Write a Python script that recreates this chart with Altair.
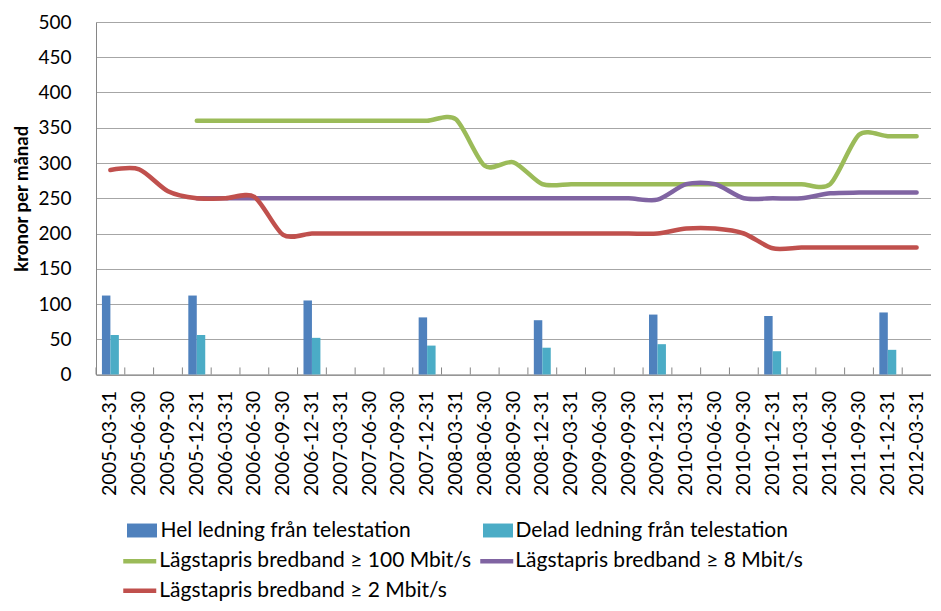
import altair as alt
import pandas as pd

dates = [
    "2005-03-31", "2005-06-30", "2005-09-30", "2005-12-31",
    "2006-03-31", "2006-06-30", "2006-09-30", "2006-12-31",
    "2007-03-31", "2007-06-30", "2007-09-30", "2007-12-31",
    "2008-03-31", "2008-06-30", "2008-09-30", "2008-12-31",
    "2009-03-31", "2009-06-30", "2009-09-30", "2009-12-31",
    "2010-03-31", "2010-06-30", "2010-09-30", "2010-12-31",
    "2011-03-31", "2011-06-30", "2011-09-30", "2011-12-31",
    "2012-03-31",
]

bar_dates = ["2005-03-31", "2005-12-31", "2006-12-31", "2007-12-31",
             "2008-12-31", "2009-12-31", "2010-12-31", "2011-12-31"]
hel = [112, 112, 105, 81, 77, 85, 83, 88]
delad = [56, 56, 52, 41, 38, 43, 33, 35]

bb100 = [None, None, None, 360, 360, 360, 360, 360, 360, 360, 360, 360,
         362, 296, 301, 270, 270, 270, 270, 270, 270, 270, 270, 270,
         270, 270, 340, 338, 338]
bb8 = [None, None, None, 250, 250, 250, 250, 250, 250, 250, 250, 250,
       250, 250, 250, 250, 250, 250, 250, 248, 270, 270, 250, 250,
       250, 257, 258, 258, 258]
bb2 = [290, 291, 260, 250, 250, 252, 198, 200, 200, 200, 200, 200,
       200, 200, 200, 200, 200, 200, 200, 200, 207, 207, 200, 179,
       180, 180, 180, 180, 180]

HEL = "Hel ledning från telestation"
DEL = "Delad ledning från telestation"
L100 = "Lägstapris bredband ≥ 100 Mbit/s"
L8 = "Lägstapris bredband ≥ 8 Mbit/s"
L2 = "Lägstapris bredband ≥ 2 Mbit/s"

FONT = "Lato"

x_scale = alt.Scale(domain=dates, paddingInner=0, paddingOuter=0)
y_scale = alt.Scale(domain=[0, 500])

xaxis = alt.Axis(labelAngle=-90, labelFont=FONT, labelFontSize=19.5, labelColor="#000",
                 labelPadding=16, ticks=False, domainColor="#868686", domainWidth=1,
                 grid=False, title=None)
yaxis = alt.Axis(values=list(range(0, 501, 50)), labelFont=FONT, labelFontSize=19,
                 labelColor="#000", labelPadding=25, ticks=False, domainColor="#868686",
                 gridColor="#A6A6A6", grid=True, title="kronor per månad",
                 titleFont=FONT, titleFontSize=18.5, titleFontWeight="bold",
                 titleColor="#000", titlePadding=6)

xenc = alt.X("date:N", scale=x_scale, axis=xaxis)
yenc = alt.Y("value:Q", scale=y_scale, axis=yaxis)
xoff = alt.XOffset("series:N", scale=alt.Scale(domain=[HEL, DEL], paddingInner=0, paddingOuter=0.7))

RECT = "M-2,-0.93H2V0.93H-2Z"
LINE = "M-2,0H2"


def leg(x, y, symbol, size, offset, sw=0):
    return alt.Legend(orient="none", legendX=x, legendY=y, title=None, symbolType=symbol,
                      symbolSize=size, symbolStrokeWidth=sw, labelFont=FONT,
                      labelFontSize=21, labelColor="#000", labelOffset=offset, padding=0,
                      symbolOpacity=1, labelLimit=600)


def bar_layer(name, vals, colour, lx, ly, off):
    df = pd.DataFrame({"date": bar_dates, "value": vals, "series": name})
    return alt.Chart(df).mark_bar().encode(
        x=xenc, y=yenc, xOffset=xoff,
        color=alt.Color("series:N", scale=alt.Scale(domain=[name], range=[colour]),
                        legend=leg(lx, ly, RECT, 225, off)),
    )


def line_layer(name, vals, colour, lx, ly, off):
    rows = [(d, v) for d, v in zip(dates, vals) if v is not None]
    df = pd.DataFrame({"date": [r[0] for r in rows], "value": [r[1] for r in rows], "series": name})
    return alt.Chart(df).mark_line(interpolate="cardinal", tension=0.2, strokeWidth=4.5,
                                   strokeCap="round").encode(
        x=xenc, y=yenc,
        color=alt.Color("series:N", scale=alt.Scale(domain=[name], range=[colour]),
                        legend=leg(lx, ly, LINE, 272.25, off, 4.5)),
    )


ticks_df = pd.DataFrame({"date": dates})
tick_layer = alt.Chart(ticks_df).mark_rule(color="#868686", strokeWidth=1).encode(
    x=alt.X("date:N", scale=x_scale, axis=xaxis, bandPosition=0),
    y=alt.datum(0, scale=y_scale, axis=yaxis),
    y2=alt.datum(10),
)

chart = alt.layer(
    tick_layer,
    bar_layer(HEL, hel, "#4F81BD", 35.5, 498, 8),
    bar_layer(DEL, delad, "#4BACC6", 391.5, 498, 7),
    line_layer(L100, bb100, "#9BBB59", 33.25, 528.75, 9),
    line_layer(L8, bb8, "#8064A2", 390.25, 528.75, 8),
    line_layer(L2, bb2, "#C0504D", 33.25, 558.25, 9),
).resolve_scale(color="independent").properties(
    width=835, height=352.5,
    padding={"left": 4, "top": 5, "right": 0, "bottom": 0},
).configure_view(stroke=None).configure(background="white")

chart.save("out.html", embed_options={"renderer": "svg", "actions": False})
